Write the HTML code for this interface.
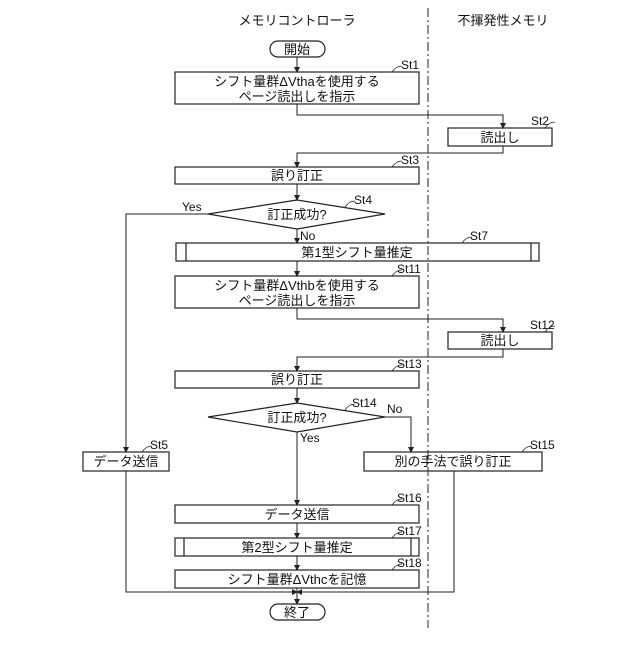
<!DOCTYPE html>
<html><head><meta charset="utf-8"><style>
body{margin:0;background:#fff}
svg text{font-family:"Liberation Sans","Noto Sans CJK JP",sans-serif;fill:#111}
</style></head><body>
<svg width="640" height="640" viewBox="0 0 640 640" xmlns="http://www.w3.org/2000/svg">
<defs><marker id="a" markerWidth="6" markerHeight="6" refX="5" refY="3" orient="auto" markerUnits="userSpaceOnUse"><path d="M0,0 L6,3 L0,6 z" fill="#222"/></marker></defs>
<g fill="none" stroke="#222" stroke-width="1.2">
<line x1="428" y1="8" x2="428" y2="628" stroke-dasharray="9,3,2,3" stroke-width="1"/>
<rect x="270" y="41" width="55" height="16" rx="8"/>
<rect x="175" y="72" width="244" height="32"/>
<rect x="448" y="128" width="104" height="18"/>
<rect x="175" y="167" width="244" height="17"/>
<polygon points="208,214 297,200 385,214 297,229"/>
<rect x="176" y="243" width="363" height="18"/>
<line x1="186" y1="243" x2="186" y2="261"/><line x1="531" y1="243" x2="531" y2="261"/>
<rect x="175" y="276" width="244" height="32"/>
<rect x="448" y="332" width="104" height="17"/>
<rect x="175" y="371" width="244" height="17"/>
<polygon points="208,417 297,403 385,417 297,432"/>
<rect x="83" y="452" width="86" height="19"/>
<rect x="364" y="452" width="178" height="19"/>
<rect x="175" y="505" width="244" height="18"/>
<rect x="175" y="538" width="244" height="18"/>
<line x1="184" y1="538" x2="184" y2="556"/><line x1="411" y1="538" x2="411" y2="556"/>
<rect x="175" y="570" width="244" height="18"/>
<rect x="270" y="604" width="55" height="16" rx="8"/>
<g stroke-width="1" marker-end="url(#a)">
<polyline points="297,57 297,72"/>
<polyline points="297,104 297,115 503,115 503,128"/>
<polyline points="503,146 503,153 297,153 297,167"/>
<polyline points="297,184 297,200"/>
<polyline points="208,214 126,214 126,452"/>
<polyline points="297,229 297,243"/>
<polyline points="297,261 297,276"/>
<polyline points="297,308 297,319 503,319 503,332"/>
<polyline points="503,349 503,357 297,357 297,371"/>
<polyline points="297,388 297,403"/>
<polyline points="385,417 411,417 411,452"/>
<polyline points="297,432 297,505"/>
<polyline points="297,523 297,538"/>
<polyline points="297,556 297,570"/>
<polyline points="126,471 126,592 297,592"/>
<polyline points="454,471 454,592 297,592"/>
<polyline points="297,588 297,604"/>
</g>
<g stroke-width="0.8">
<path d="M392,72 q4,-6 10,-6"/><path d="M545,128 q4,-6 10,-6"/><path d="M392,167 q4,-6 10,-6"/>
<path d="M345,207 q4,-6 10,-6"/><path d="M462,243 q4,-6 10,-6"/><path d="M392,276 q4,-6 10,-6"/>
<path d="M545,332 q4,-6 10,-6"/><path d="M392,371 q4,-6 10,-6"/><path d="M345,410 q4,-6 10,-6"/>
<path d="M142,452 q4,-6 10,-6"/><path d="M522,452 q4,-6 10,-6"/><path d="M392,505 q4,-6 10,-6"/>
<path d="M392,538 q4,-6 10,-6"/><path d="M392,570 q4,-6 10,-6"/>
</g>
</g>
<g font-size="13" text-anchor="middle">
<text x="297" y="25">メモリコントローラ</text>
<text x="503" y="25">不揮発性メモリ</text>
<text x="297" y="54">開始</text>
<text x="297" y="86">シフト量群ΔVthaを使用する</text>
<text x="297" y="101">ページ読出しを指示</text>
<text x="500" y="142">読出し</text>
<text x="297" y="180">誤り訂正</text>
<text x="297" y="219">訂正成功?</text>
<text x="357" y="257">第1型シフト量推定</text>
<text x="297" y="290">シフト量群ΔVthbを使用する</text>
<text x="297" y="305">ページ読出しを指示</text>
<text x="500" y="345">読出し</text>
<text x="297" y="384">誤り訂正</text>
<text x="297" y="422">訂正成功?</text>
<text x="126" y="466">データ送信</text>
<text x="453" y="466">別の手法で誤り訂正</text>
<text x="297" y="519">データ送信</text>
<text x="297" y="552">第2型シフト量推定</text>
<text x="297" y="584">シフト量群ΔVthcを記憶</text>
<text x="297" y="617">終了</text>
</g>
<g font-size="12">
<text x="401" y="69">St1</text><text x="531" y="125">St2</text><text x="401" y="164">St3</text>
<text x="354" y="204">St4</text><text x="470" y="240">St7</text><text x="397" y="273">St11</text>
<text x="530" y="329">St12</text><text x="397" y="368">St13</text><text x="352" y="407">St14</text>
<text x="150" y="449">St5</text><text x="530" y="449">St15</text><text x="397" y="502">St16</text>
<text x="397" y="535">St17</text><text x="397" y="567">St18</text>
<text x="182" y="211">Yes</text><text x="300" y="240">No</text>
<text x="387" y="413">No</text><text x="300" y="442">Yes</text>
</g>
</svg>
</body></html>
